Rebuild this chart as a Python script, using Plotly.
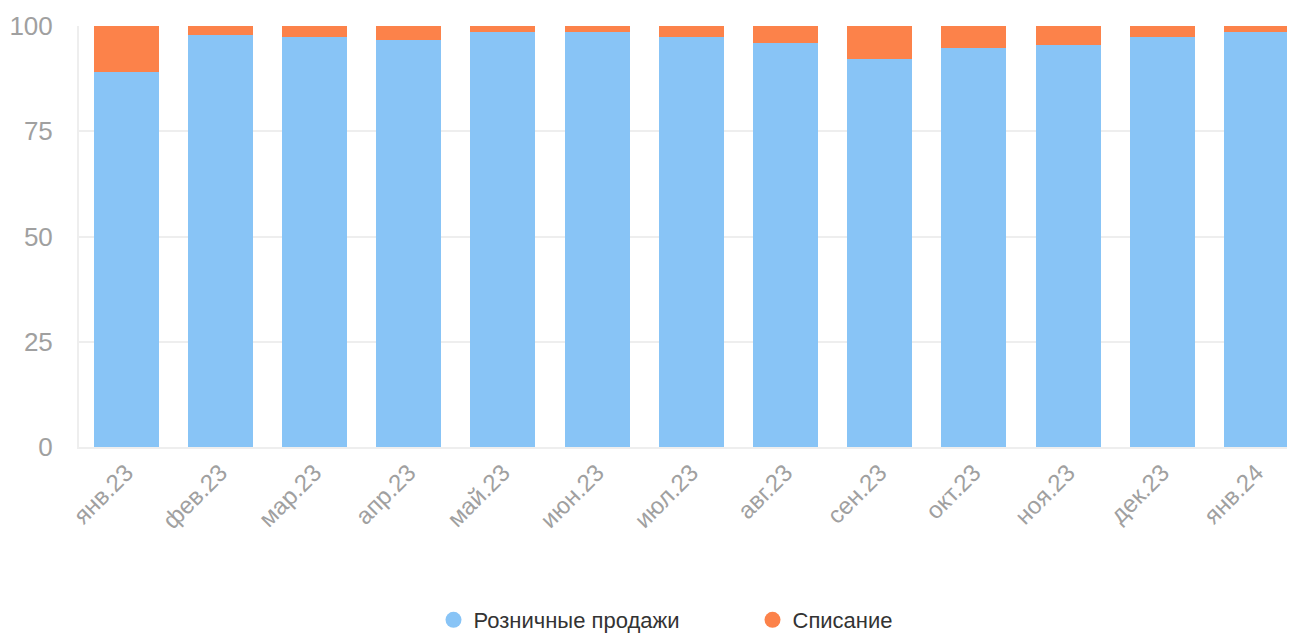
import plotly.graph_objects as go

categories = ["янв.23", "фев.23", "мар.23", "апр.23", "май.23", "июн.23", "июл.23",
              "авг.23", "сен.23", "окт.23", "ноя.23", "дек.23", "янв.24"]
retail = [89.1, 97.9, 97.4, 96.7, 98.6, 98.6, 97.4, 96.0, 92.2, 94.8, 95.5, 97.4, 98.6]
writeoff = [round(100 - v, 1) for v in retail]
series_names = ["Розничные продажи", "Списание"]
colors = ["#88C4F6", "#FC824A"]

fig = go.Figure()
for name, vals, col in zip(series_names, [retail, writeoff], colors):
    fig.add_trace(go.Bar(x=categories, y=vals, name=name, marker_color=col,
                         marker_line_width=0, showlegend=False))
for name, col in zip(series_names, colors):
    fig.add_trace(go.Scatter(x=[None], y=[None], mode="markers", name=name,
                             marker=dict(color=col, size=18, symbol="circle")))

# page has an 8px body margin; figure sized to fit viewport
W, H = 1287, 625
fig.update_layout(
    barmode="stack",
    bargap=0.31,
    width=W, height=H,
    margin=dict(l=71, r=0, t=18, b=186),
    plot_bgcolor="white", paper_bgcolor="white",
    font=dict(family="Liberation Sans, Arial, sans-serif", color="#999999"),
    showlegend=True,
    legend=dict(orientation="h", x=0.5 + 101 / W, xanchor="center", xref="container",
                y=1 - 612 / H, yref="container", yanchor="middle",
                traceorder="normal",
                font=dict(size=22, color="#333333"),
                entrywidth=274, entrywidthmode="pixels"),
    xaxis=dict(type="category", range=[-0.5, 12.41], tickangle=-45,
               tickfont=dict(size=24, color="#a0a0a0"), showgrid=False,
               showline=True, linecolor="#eeeeee", linewidth=2, ticks="",
               automargin=False),
    yaxis=dict(range=[0, 100], tickvals=[0, 25, 50, 75, 100],
               tickfont=dict(size=26, color="#a0a0a0"), gridcolor="#eeeeee",
               gridwidth=2, showline=True, linecolor="#eeeeee", linewidth=2,
               zeroline=False, ticks="", ticklabelstandoff=19, automargin=False),
)
fig.write_html("out.html")
